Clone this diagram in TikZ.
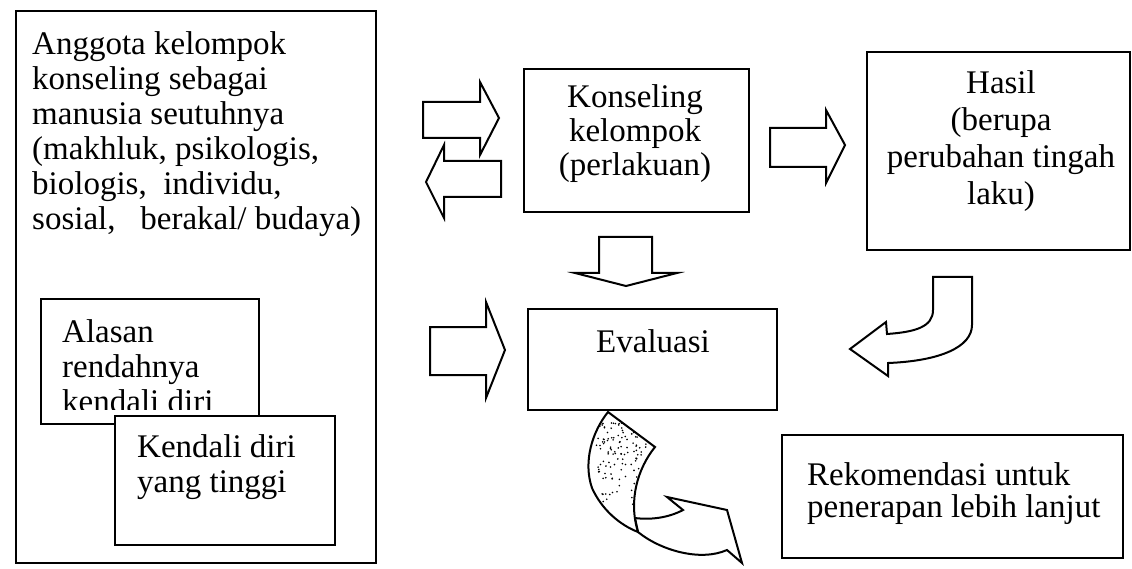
\documentclass[tikz,border=0pt]{standalone}
\usepackage{fontspec}
\setmainfont{Liberation Serif}
\begin{document}
\begin{tikzpicture}[x=1pt,y=-1pt,
  box/.style={draw, line width=2pt, fill=white, inner sep=0pt},
  txt/.style={inner sep=0pt, font=\fontsize{33}{35}\selectfont},
  barrow/.style={draw, line width=2pt, fill=white, line join=miter}]
\useasboundingbox (0,0) rectangle (1132,569);
\fill[white] (0,0) rectangle (1132,569);

% big left box
\node[box, minimum width=360pt, minimum height=552pt] (anggota) at (196,287) {};
\node[txt, anchor=north west, align=left] (anggotatxt) at (32,31)
  {Anggota kelompok\\konseling sebagai\\manusia seutuhnya\\(makhluk, psikologis,\\biologis,~~individu,\\sosial,~~~berakal/ budaya)};

% Alasan box (text clipped at the bottom)
\node[box, minimum width=218pt, minimum height=125pt] (alasan) at (150,361.5) {};
\begin{scope}
  \clip (42,300) rectangle (258,409);
  \node[txt, anchor=north west, align=left] (alasantxt) at (62,319) {Alasan\\rendahnya\\kendali diri};
\end{scope}

% Kendali box
\node[box, minimum width=220pt, minimum height=129pt] (kendali) at (225,480.5) {};
\node[txt, anchor=north west, align=left] (kendalitxt) at (137,434.5) {Kendali diri\\yang tinggi};

% Konseling box
\node[box, minimum width=225pt, minimum height=143pt] (konseling) at (636.5,140.5) {};
\node[txt, anchor=north, align=center, font=\fontsize{33}{34}\selectfont] (konselingtxt) at (635,84.5) {Konseling\\kelompok\\(perlakuan)};

% Hasil box
\node[box, minimum width=263pt, minimum height=198pt] (hasil) at (998.5,151) {};
\node[txt, anchor=north, align=center, font=\fontsize{33}{37}\selectfont] (hasiltxt) at (1001,70) {Hasil\\(berupa\\perubahan tingah\\laku)};

% Evaluasi box
\node[box, minimum width=249pt, minimum height=101pt] (evaluasi) at (652.5,359.5) {};
\node[txt, anchor=north] (evaluasitxt) at (653,329.5) {Evaluasi};

% Rekomendasi box
\node[box, minimum width=341pt, minimum height=123pt] (rekomendasi) at (952.5,496.5) {};
\node[txt, anchor=north west, align=left, font=\fontsize{33}{32}\selectfont] (rekomendasitxt) at (807,462.5) {Rekomendasi untuk\\penerapan lebih lanjut};

% block arrows
\draw[barrow] (423,102) -- (480,102) -- (480,82) -- (499,118) -- (480,155) -- (480,138) -- (423,138) -- cycle;
\draw[barrow] (501,161) -- (444,161) -- (444,145) -- (426,182) -- (444,218) -- (444,197) -- (501,197) -- cycle;
\draw[barrow] (430,327) -- (486,327) -- (486,302) -- (505,350) -- (486,398) -- (486,375) -- (430,375) -- cycle;
\draw[barrow] (770,128) -- (826,128) -- (826,110) -- (845,145) -- (826,183) -- (826,167) -- (770,167) -- cycle;
\draw[barrow] (599,237) -- (652,237) -- (652,273) -- (677,273) -- (626,286) -- (575,273) -- (599,273) -- cycle;

% curved arrow Hasil -> Evaluasi
\draw[barrow] (933,277) -- (972,277) -- (972,325) .. controls (972,347) and (940,361) .. (888,363)
  -- (888,376) -- (850,349) -- (886,322) -- (887,334) .. controls (915,332) and (933,327) .. (933,310) -- cycle;

% curled arrow Evaluasi -> Rekomendasi
\draw[barrow] (638,532) .. controls (660,550) and (700,562) .. (727,550) -- (742,563) -- (727,510) -- (667,497)
  -- (683,510) .. controls (668,518) and (650,520) .. (635,518) -- cycle;
\def\leafpath{(608,412) -- (655,447) .. controls (638,468) and (628,500) .. (638,532)
  .. controls (620,525) and (602,510) .. (592,488) .. controls (583,462) and (592,432) .. (608,412) -- cycle}
\fill[white] \leafpath;
\begin{scope}
  \clip \leafpath;
  \pgfmathsetseed{7}
  \foreach \i in {1,...,140}{
    \pgfmathsetmacro\px{596+56*rnd}
    \pgfmathsetmacro\py{420+100*rnd*(0.3+0.7*rnd)}
    \fill (\px,\py) circle (0.9pt);
  }
\end{scope}
\draw[line width=2pt, line join=miter] \leafpath;
\end{tikzpicture}
\end{document}
